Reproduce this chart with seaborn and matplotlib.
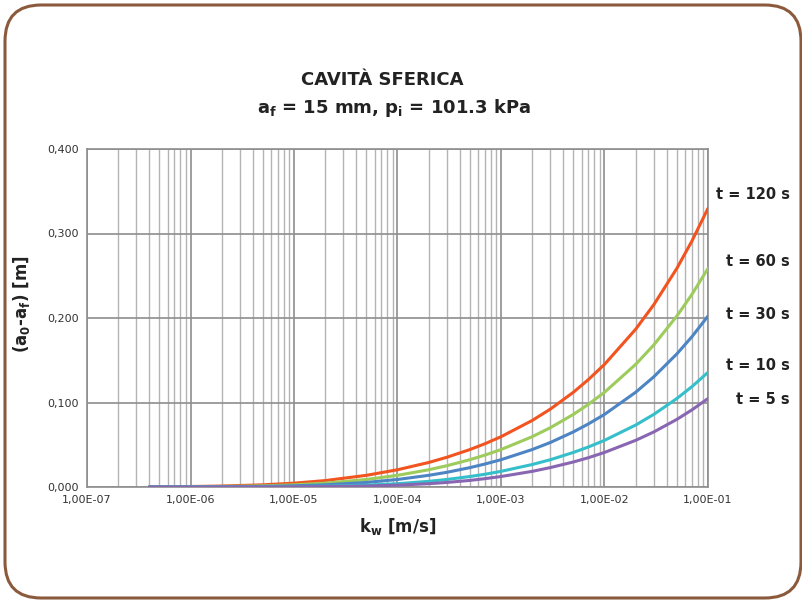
import numpy as np
import pandas as pd
import seaborn as sns
import matplotlib
matplotlib.use("Agg")
import matplotlib.pyplot as plt
from matplotlib.patches import FancyBboxPatch
from matplotlib.ticker import FuncFormatter, FixedLocator, NullFormatter

# ---- data ----
k_w = [4e-7, 1e-6, 2e-6, 5e-6, 1e-5, 2e-5, 5e-5, 1e-4, 2e-4, 3e-4, 5e-4, 7e-4,
       1e-3, 2e-3, 3e-3, 5e-3, 7e-3, 1e-2, 2e-2, 3e-2, 5e-2, 7e-2, 1e-1]
series_names = ["t = 120 s", "t = 60 s", "t = 30 s", "t = 10 s", "t = 5 s"]
t120 = [0.00024, 0.00058, 0.00113, 0.00257, 0.00455, 0.0076, 0.0138, 0.0204, 0.0290, 0.0352, 0.0443, 0.0512,
        0.0595, 0.0787, 0.0922, 0.1121, 0.1272, 0.1451, 0.1867, 0.2159, 0.2587, 0.2912, 0.3298]
t60 = [0.00012, 0.0003, 0.00058, 0.00139, 0.00257, 0.00455, 0.0089, 0.0138, 0.0204, 0.0252, 0.0323, 0.0378,
       0.0443, 0.0595, 0.0702, 0.0859, 0.0979, 0.1121, 0.1451, 0.1682, 0.2023, 0.2280, 0.2587]
t30 = [0.00006, 0.00015, 0.0003, 0.00072, 0.00139, 0.00257, 0.0054, 0.0089, 0.0138, 0.0174, 0.0229, 0.0272,
       0.0323, 0.0443, 0.0527, 0.0652, 0.0747, 0.0859, 0.1121, 0.1305, 0.1575, 0.1779, 0.2023]
t10 = [0.00002, 0.00005, 0.0001, 0.00025, 0.00049, 0.00095, 0.0022, 0.0039, 0.0067, 0.0089, 0.0124, 0.0151,
       0.0185, 0.0266, 0.0323, 0.0409, 0.0474, 0.0552, 0.0733, 0.0860, 0.1047, 0.1188, 0.1357]
t5 = [0.00001, 0.000025, 0.00005, 0.00013, 0.00025, 0.00049, 0.00117, 0.0022, 0.0039, 0.0054, 0.0078, 0.0099,
      0.0124, 0.0185, 0.0230, 0.0296, 0.0347, 0.0409, 0.0552, 0.0652, 0.0800, 0.0913, 0.1047]
x_ticks = [1e-7, 1e-6, 1e-5, 1e-4, 1e-3, 1e-2, 1e-1]
y_ticks = [0.0, 0.1, 0.2, 0.3, 0.4]
label_y = [0.346, 0.267, 0.204, 0.144, 0.103]
colors = ["#F2541F", "#9DCB5C", "#4C84C4", "#35BFCB", "#8866B2"]

rows = []
for name, vals in zip(series_names, [t120, t60, t30, t10, t5]):
    for k, v in zip(k_w, vals):
        rows.append({"k": k, "d": v, "serie": name})
df = pd.DataFrame(rows)

sns.set_theme(style="white")
plt.rcParams["font.family"] = ["DejaVu Sans"]

fig = plt.figure(figsize=(8.03, 6.0), dpi=100)
ax = fig.add_axes([87 / 803, 1 - 487 / 600, 621 / 803, 338 / 600])

sns.lineplot(data=df, x="k", y="d", hue="serie", hue_order=series_names,
             palette=colors, linewidth=2.2, legend=False, ax=ax, zorder=3)

ax.set_xscale("log")
ax.set_xlim(1e-7, 1e-1)
ax.set_ylim(0, 0.4)
minor = [m * d for d in x_ticks[:-1] for m in range(2, 10)]
ax.xaxis.set_major_locator(FixedLocator(x_ticks))
ax.xaxis.set_minor_locator(FixedLocator(minor))
ax.yaxis.set_major_locator(FixedLocator(y_ticks))
ax.xaxis.set_major_formatter(FuncFormatter(lambda v, p: f"{v:.2E}".replace(".", ",")))
ax.xaxis.set_minor_formatter(NullFormatter())
ax.yaxis.set_major_formatter(FuncFormatter(lambda v, p: f"{v:.3f}".replace(".", ",")))

ax.grid(True, which="major", axis="both", color="#8E8E8E", linewidth=1.2, zorder=0)
ax.grid(True, which="minor", axis="x", color="#B4B4B4", linewidth=1.0, zorder=0)
ax.tick_params(axis="both", which="both", length=0, labelsize=8, colors="#333333", pad=6)
for s in ax.spines.values():
    s.set_color("#8E8E8E")
    s.set_linewidth(1.2)

ax.set_xlabel("k$_\\mathbf{w}$ [m/s]", fontsize=12, fontweight="bold", color="#222222", labelpad=8)
ax.set_ylabel("(a$_\\mathbf{0}$-a$_\\mathbf{f}$) [m]", fontsize=12, fontweight="bold", color="#222222")
ax.yaxis.set_label_coords(-0.088, 0.54)

fig.text(382 / 803, 1 - 80 / 600, "CAVITÀ SFERICA", ha="center", va="center",
         fontsize=13, fontweight="bold", color="#222222")
fig.text(394 / 803, 1 - 108 / 600, "a$_\\mathbf{f}$ = 15 mm, p$_\\mathbf{i}$ = 101.3 kPa",
         ha="center", va="center", fontsize=13, fontweight="bold", color="#222222")

for name, yv in zip(series_names, label_y):
    ax.text(1.132, yv, name, transform=ax.get_yaxis_transform(), ha="right", va="center",
            fontsize=10.5, fontweight="bold", color="#222222", clip_on=False)

frame = FancyBboxPatch((5 / 803, 2 / 600), 796 / 803, 593 / 600,
                       boxstyle="round,pad=0,rounding_size=0.045",
                       transform=fig.transFigure, facecolor="none",
                       edgecolor="#8B5A3C", linewidth=2.2, mutation_aspect=803 / 600)
fig.patches.append(frame)

fig.savefig("out.png", dpi=100)
